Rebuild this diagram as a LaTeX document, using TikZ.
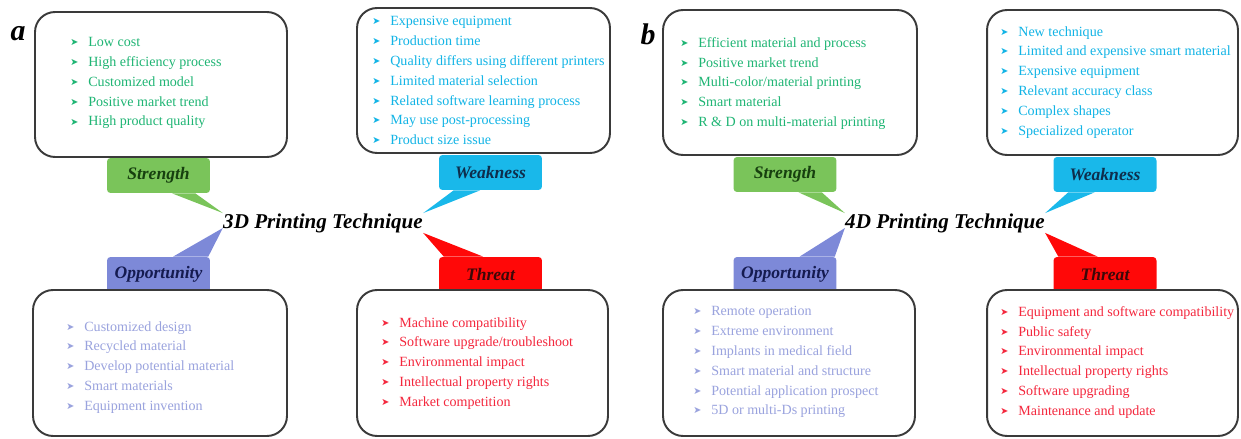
\documentclass[tikz,border=0pt]{standalone}
\usepackage{fontspec}
\setmainfont{Liberation Serif}
\newfontfamily\arrowfont{DejaVu Sans}
\usetikzlibrary{positioning, calc}

\definecolor{strfill}{HTML}{7AC45A}
\definecolor{weakfill}{HTML}{19B8EA}
\definecolor{oppfill}{HTML}{7D89D8}
\definecolor{thrfill}{HTML}{FF0808}
\definecolor{strtext}{HTML}{1FB574}
\definecolor{weaktext}{HTML}{12B4E6}
\definecolor{opptext}{HTML}{9AA3DE}
\definecolor{thrtext}{HTML}{F4283E}
\definecolor{strdark}{HTML}{17400F}
\definecolor{weakdark}{HTML}{0E2E4C}
\definecolor{oppdark}{HTML}{151B50}
\definecolor{thrdark}{HTML}{3C0808}
\definecolor{boxline}{HTML}{3A3A3A}

\newcommand{\blt}{\makebox[0.36cm][l]{\raisebox{0.15ex}{\arrowfont\fontsize{5.5}{6}\selectfont ➤}}}

\tikzset{
    panel/.style={draw=boxline, line width=1.1pt, fill=white, rounded corners=0.4cm},
    tag/.style={minimum width=2.06cm, minimum height=0.7cm, rounded corners=2pt,
        inner sep=0pt, font=\bfseries\itshape\fontsize{10}{12}\selectfont},
    items/.style={anchor=north west, align=left, inner sep=0pt,
        font=\fontsize{8}{11.3}\selectfont},
    title/.style={inner sep=0pt, font=\bfseries\itshape\fontsize{12}{14}\selectfont},
}

\begin{document}
\begin{tikzpicture}[x=0.02cm, y=-0.02cm]
    \useasboundingbox (0,0) rectangle (1241,439);

    % panel a
    \node [title] (t3) at (323,223) {3D Printing Technique};
    \node [tag, fill=strfill, text=strdark] (str3) at (158.5,175.5) {Strength};
    \node [tag, fill=weakfill, text=weakdark] (weak3) at (490.5,172.5) {Weakness};
    \node [tag, fill=oppfill, text=oppdark] (opp3) at (158.5,274.5) {Opportunity};
    \node [tag, fill=thrfill, text=thrdark] (thr3) at (490.5,274.5) {Threat};

    % callout tails
    \fill [strfill] ($(str3.south)!0.26!(str3.south east)$)
        -- ($(str3.south)!0.71!(str3.south east)$) -- (t3.north west) -- cycle;
    \fill [weakfill] ($(weak3.south)!0.71!(weak3.south west)$)
        -- ($(weak3.south)!0.2!(weak3.south west)$) -- (t3.north east) -- cycle;
    \fill [oppfill] ($(opp3.north)!0.28!(opp3.north east)$)
        -- ($(opp3.north)!0.96!(opp3.north east)$) -- ($(t3.west)+(0,5)$) -- cycle;
    \fill [thrfill] ($(thr3.north)!0.9!(thr3.north west)$)
        -- ($(thr3.north)!0.14!(thr3.north west)$) -- (t3.south east) -- cycle;

    \node [panel, minimum width=5.04cm, minimum height=2.9cm] (s3box) at (161,84.5) {};
    \node [panel, minimum width=5.06cm, minimum height=2.9cm] (w3box) at (483.5,80.5) {};
    \node [panel, minimum width=5.08cm, minimum height=2.92cm] (o3box) at (160,363) {};
    \node [panel, minimum width=5.02cm, minimum height=2.92cm] (t3box) at (482.5,363) {};

    \node [items, text=strtext] (s3list) at (70,37) {
        \blt Low cost\\
        \blt High efficiency process\\
        \blt Customized model\\
        \blt Positive market trend\\
        \blt High product quality};
    \node [items, text=weaktext] (w3list) at (372,16) {
        \blt Expensive equipment\\
        \blt Production time\\
        \blt Quality differs using different printers\\
        \blt Limited material selection\\
        \blt Related software learning process\\
        \blt May use post-processing\\
        \blt Product size issue};
    \node [items, text=opptext] (o3list) at (66,321) {
        \blt Customized design\\
        \blt Recycled material\\
        \blt Develop potential material\\
        \blt Smart materials\\
        \blt Equipment invention};
    \node [items, text=thrtext] (t3list) at (381,317) {
        \blt Machine compatibility\\
        \blt Software upgrade/troubleshoot\\
        \blt Environmental impact\\
        \blt Intellectual property rights\\
        \blt Market competition};

    % panel b
    \node [title] (t4) at (945,223) {4D Printing Technique};
    \node [tag, fill=strfill, text=strdark] (str4) at (785,174.5) {Strength};
    \node [tag, fill=weakfill, text=weakdark] (weak4) at (1105,174.5) {Weakness};
    \node [tag, fill=oppfill, text=oppdark] (opp4) at (785,274.5) {Opportunity};
    \node [tag, fill=thrfill, text=thrdark] (thr4) at (1105,274.5) {Threat};

    \fill [strfill] ($(str4.south)!0.26!(str4.south east)$)
        -- ($(str4.south)!0.71!(str4.south east)$) -- (t4.north west) -- cycle;
    \fill [weakfill] ($(weak4.south)!0.71!(weak4.south west)$)
        -- ($(weak4.south)!0.2!(weak4.south west)$) -- (t4.north east) -- cycle;
    \fill [oppfill] ($(opp4.north)!0.28!(opp4.north east)$)
        -- ($(opp4.north)!0.96!(opp4.north east)$) -- ($(t4.west)+(0,5)$) -- cycle;
    \fill [thrfill] ($(thr4.north)!0.9!(thr4.north west)$)
        -- ($(thr4.north)!0.14!(thr4.north west)$) -- (t4.south east) -- cycle;

    \node [panel, minimum width=5.08cm, minimum height=2.9cm] (s4box) at (790,82.5) {};
    \node [panel, minimum width=5.02cm, minimum height=2.9cm] (w4box) at (1112.5,82.5) {};
    \node [panel, minimum width=5.04cm, minimum height=2.92cm] (o4box) at (789,363) {};
    \node [panel, minimum width=5.02cm, minimum height=2.92cm] (t4box) at (1112.5,363) {};

    \node [items, text=strtext] (s4list) at (680,37) {
        \blt Efficient material and process\\
        \blt Positive market trend\\
        \blt Multi-color/material printing\\
        \blt Smart material\\
        \blt R \& D on multi-material printing};
    \node [items, text=weaktext] (w4list) at (1000,26) {
        \blt New technique\\
        \blt Limited and expensive smart material\\
        \blt Expensive equipment\\
        \blt Relevant accuracy class\\
        \blt Complex shapes\\
        \blt Specialized operator};
    \node [items, text=opptext] (o4list) at (693,306) {
        \blt Remote operation\\
        \blt Extreme environment\\
        \blt Implants in medical field\\
        \blt Smart material and structure\\
        \blt Potential application prospect\\
        \blt 5D or multi-Ds printing};
    \node [items, text=thrtext] (t4list) at (1000,306) {
        \blt Equipment and software compatibility\\
        \blt Public safety\\
        \blt Environmental impact\\
        \blt Intellectual property rights\\
        \blt Software upgrading\\
        \blt Maintenance and update};

    % panel letters
    \node [font=\bfseries\itshape\fontsize{17}{19}\selectfont] (lbla) at (18,34) {a};
    \node [font=\bfseries\itshape\fontsize{17}{19}\selectfont] (lblb) at (648,34) {b};
\end{tikzpicture}
\end{document}
